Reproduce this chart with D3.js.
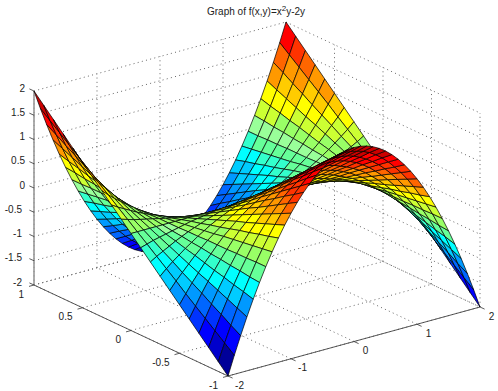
<!DOCTYPE html>
<html>
<head>
<meta charset="utf-8">
<script src="https://cdn.jsdelivr.net/npm/d3@7"></script>
<style>
  body { margin: 0; background: #fff; }
  text { font-family: "Liberation Sans", sans-serif; font-size: 10px; fill: #222; }
</style>
</head>
<body>
<div id="chart"></div>
<script>
/*-------------------------------data-------------------------------*/

const xValues = [-2,-1.9,-1.8,-1.7,-1.6,-1.5,-1.4,-1.3,-1.2,-1.1,-1,-.9,-.8,-.7,-.6,-.5,-.4,-.3,-.2,-.1,0,.1,.2,.3,.4,.5,.6,.7,.8,.9,1,1.1,1.2,1.3,1.4,1.5,1.6,1.7,1.8,1.9,2];
const yValues = [-1,-.9,-.8,-.7,-.6,-.5,-.4,-.3,-.2,-.1,0,.1,.2,.3,.4,.5,.6,.7,.8,.9,1];

// one row per x value, one column per y value
const zValues = [
  [-2,-1.8,-1.6,-1.4,-1.2,-1,-.8,-.6,-.4,-.2,0,.2,.4,.6,.8,1,1.2,1.4,1.6,1.8,2],
  [-1.61,-1.45,-1.29,-1.13,-.97,-.81,-.64,-.48,-.32,-.16,0,.16,.32,.48,.64,.81,.97,1.13,1.29,1.45,1.61],
  [-1.24,-1.12,-.99,-.87,-.74,-.62,-.5,-.37,-.25,-.12,0,.12,.25,.37,.5,.62,.74,.87,.99,1.12,1.24],
  [-.89,-.8,-.71,-.62,-.53,-.45,-.36,-.27,-.18,-.09,0,.09,.18,.27,.36,.45,.53,.62,.71,.8,.89],
  [-.56,-.5,-.45,-.39,-.34,-.28,-.22,-.17,-.11,-.06,0,.06,.11,.17,.22,.28,.34,.39,.45,.5,.56],
  [-.25,-.23,-.2,-.18,-.15,-.13,-.1,-.08,-.05,-.03,0,.03,.05,.08,.1,.13,.15,.18,.2,.23,.25],
  [.04,.04,.03,.03,.02,.02,.02,.01,.01,0,0,0,-.01,-.01,-.02,-.02,-.02,-.03,-.03,-.04,-.04],
  [.31,.28,.25,.22,.19,.16,.12,.09,.06,.03,0,-.03,-.06,-.09,-.12,-.16,-.19,-.22,-.25,-.28,-.31],
  [.56,.5,.45,.39,.34,.28,.22,.17,.11,.06,0,-.06,-.11,-.17,-.22,-.28,-.34,-.39,-.45,-.5,-.56],
  [.79,.71,.63,.55,.47,.4,.32,.24,.16,.08,0,-.08,-.16,-.24,-.32,-.4,-.47,-.55,-.63,-.71,-.79],
  [1,.9,.8,.7,.6,.5,.4,.3,.2,.1,0,-.1,-.2,-.3,-.4,-.5,-.6,-.7,-.8,-.9,-1],
  [1.19,1.07,.95,.83,.71,.6,.48,.36,.24,.12,0,-.12,-.24,-.36,-.48,-.6,-.71,-.83,-.95,-1.07,-1.19],
  [1.36,1.22,1.09,.95,.82,.68,.54,.41,.27,.14,0,-.14,-.27,-.41,-.54,-.68,-.82,-.95,-1.09,-1.22,-1.36],
  [1.51,1.36,1.21,1.06,.91,.76,.6,.45,.3,.15,0,-.15,-.3,-.45,-.6,-.76,-.91,-1.06,-1.21,-1.36,-1.51],
  [1.64,1.48,1.31,1.15,.98,.82,.66,.49,.33,.16,0,-.16,-.33,-.49,-.66,-.82,-.98,-1.15,-1.31,-1.48,-1.64],
  [1.75,1.58,1.4,1.23,1.05,.88,.7,.53,.35,.18,0,-.18,-.35,-.53,-.7,-.88,-1.05,-1.23,-1.4,-1.58,-1.75],
  [1.84,1.66,1.47,1.29,1.1,.92,.74,.55,.37,.18,0,-.18,-.37,-.55,-.74,-.92,-1.1,-1.29,-1.47,-1.66,-1.84],
  [1.91,1.72,1.53,1.34,1.15,.96,.76,.57,.38,.19,0,-.19,-.38,-.57,-.76,-.96,-1.15,-1.34,-1.53,-1.72,-1.91],
  [1.96,1.76,1.57,1.37,1.18,.98,.78,.59,.39,.2,0,-.2,-.39,-.59,-.78,-.98,-1.18,-1.37,-1.57,-1.76,-1.96],
  [1.99,1.79,1.59,1.39,1.19,1,.8,.6,.4,.2,0,-.2,-.4,-.6,-.8,-1,-1.19,-1.39,-1.59,-1.79,-1.99],
  [2,1.8,1.6,1.4,1.2,1,.8,.6,.4,.2,0,-.2,-.4,-.6,-.8,-1,-1.2,-1.4,-1.6,-1.8,-2],
  [1.99,1.79,1.59,1.39,1.19,1,.8,.6,.4,.2,0,-.2,-.4,-.6,-.8,-1,-1.19,-1.39,-1.59,-1.79,-1.99],
  [1.96,1.76,1.57,1.37,1.18,.98,.78,.59,.39,.2,0,-.2,-.39,-.59,-.78,-.98,-1.18,-1.37,-1.57,-1.76,-1.96],
  [1.91,1.72,1.53,1.34,1.15,.96,.76,.57,.38,.19,0,-.19,-.38,-.57,-.76,-.96,-1.15,-1.34,-1.53,-1.72,-1.91],
  [1.84,1.66,1.47,1.29,1.1,.92,.74,.55,.37,.18,0,-.18,-.37,-.55,-.74,-.92,-1.1,-1.29,-1.47,-1.66,-1.84],
  [1.75,1.58,1.4,1.23,1.05,.88,.7,.53,.35,.18,0,-.18,-.35,-.53,-.7,-.88,-1.05,-1.23,-1.4,-1.58,-1.75],
  [1.64,1.48,1.31,1.15,.98,.82,.66,.49,.33,.16,0,-.16,-.33,-.49,-.66,-.82,-.98,-1.15,-1.31,-1.48,-1.64],
  [1.51,1.36,1.21,1.06,.91,.76,.6,.45,.3,.15,0,-.15,-.3,-.45,-.6,-.76,-.91,-1.06,-1.21,-1.36,-1.51],
  [1.36,1.22,1.09,.95,.82,.68,.54,.41,.27,.14,0,-.14,-.27,-.41,-.54,-.68,-.82,-.95,-1.09,-1.22,-1.36],
  [1.19,1.07,.95,.83,.71,.6,.48,.36,.24,.12,0,-.12,-.24,-.36,-.48,-.6,-.71,-.83,-.95,-1.07,-1.19],
  [1,.9,.8,.7,.6,.5,.4,.3,.2,.1,0,-.1,-.2,-.3,-.4,-.5,-.6,-.7,-.8,-.9,-1],
  [.79,.71,.63,.55,.47,.4,.32,.24,.16,.08,0,-.08,-.16,-.24,-.32,-.4,-.47,-.55,-.63,-.71,-.79],
  [.56,.5,.45,.39,.34,.28,.22,.17,.11,.06,0,-.06,-.11,-.17,-.22,-.28,-.34,-.39,-.45,-.5,-.56],
  [.31,.28,.25,.22,.19,.16,.12,.09,.06,.03,0,-.03,-.06,-.09,-.12,-.16,-.19,-.22,-.25,-.28,-.31],
  [.04,.04,.03,.03,.02,.02,.02,.01,.01,0,0,0,-.01,-.01,-.02,-.02,-.02,-.03,-.03,-.04,-.04],
  [-.25,-.23,-.2,-.18,-.15,-.13,-.1,-.08,-.05,-.03,0,.03,.05,.08,.1,.13,.15,.18,.2,.23,.25],
  [-.56,-.5,-.45,-.39,-.34,-.28,-.22,-.17,-.11,-.06,0,.06,.11,.17,.22,.28,.34,.39,.45,.5,.56],
  [-.89,-.8,-.71,-.62,-.53,-.45,-.36,-.27,-.18,-.09,0,.09,.18,.27,.36,.45,.53,.62,.71,.8,.89],
  [-1.24,-1.12,-.99,-.87,-.74,-.62,-.5,-.37,-.25,-.12,0,.12,.25,.37,.5,.62,.74,.87,.99,1.12,1.24],
  [-1.61,-1.45,-1.29,-1.13,-.97,-.81,-.64,-.48,-.32,-.16,0,.16,.32,.48,.64,.81,.97,1.13,1.29,1.45,1.61],
  [-2,-1.8,-1.6,-1.4,-1.2,-1,-.8,-.6,-.4,-.2,0,.2,.4,.6,.8,1,1.2,1.4,1.6,1.8,2]
];

const xTicks = [-2,-1,0,1,2];
const yTicks = [-1,-.5,0,.5,1];
const zTicks = [-2,-1.5,-1,-.5,0,.5,1,1.5,2];

/*-------------------------------init-------------------------------*/

const size = { width: 498, height: 391 };

// oblique projection of the axes box, one scale per screen direction
const xToLeft = d3.scaleLinear().domain([-2, 2]).range([0, 252]);
const xToTop = d3.scaleLinear().domain([-2, 2]).range([0, -69]);
const yToLeft = d3.scaleLinear().domain([-1, 1]).range([194, 0]);
const yToTop = d3.scaleLinear().domain([-1, 1]).range([91, 0]);
const zToTop = d3.scaleLinear().domain([-2, 2]).range([194, 0]);

const px = (x, y) => 34 + xToLeft(x) + yToLeft(y);
const py = (x, y, z) => 91 + xToTop(x) + yToTop(y) + zToTop(z);

// matlab jet, 64 steps, flat colour per face, reference is web safe palette
const jet = d3.scaleLinear()
    .domain([0, 8, 24, 40, 56, 72])
    .range(["#000080", "#0000ff", "#00ffff", "#ffff00", "#ff0000", "#800000"]);
const websafe = c => {
    const { r, g, b } = d3.rgb(c);
    const snap = v => Math.round(v / 51) * 51;
    return d3.rgb(snap(r), snap(g), snap(b)).formatHex();
};
const color = d3.scaleQuantize().domain([-2, 2]).range(d3.range(1, 65).map(i => websafe(jet(i))));

const svg = d3.select("#chart").append("svg")
    .attr("width", size.width)
    .attr("height", size.height)
    .style("display", "block");

/*-------------------------------grid-------------------------------*/

const gridLines = [];
const seg = (a, b) => gridLines.push({ a, b });

zTicks.forEach(z => {
    seg([-2, 1, z], [2, 1, z]);
    seg([2, 1, z], [2, -1, z]);
});
xTicks.forEach(x => {
    seg([x, 1, -2], [x, 1, 2]);
    seg([x, -1, -2], [x, 1, -2]);
});
yTicks.forEach(y => {
    seg([2, y, -2], [2, y, 2]);
    seg([-2, y, -2], [2, y, -2]);
});

svg.append("g")
    .selectAll("line")
    .data(gridLines)
    .enter()
    .append("line")
    .attr("x1", d => px(d.a[0], d.a[1]))
    .attr("y1", d => py(d.a[0], d.a[1], d.a[2]))
    .attr("x2", d => px(d.b[0], d.b[1]))
    .attr("y2", d => py(d.b[0], d.b[1], d.b[2]))
    .attr("stroke", "#555")
    .attr("stroke-width", 0.9)
    .attr("stroke-dasharray", "1 3.3");

/*-------------------------------axes-------------------------------*/

const axisLines = [
    { a: [-2, 1, -2], b: [-2, 1, 2], stroke: "#999", width: 1.6 },
    { a: [-2, 1, -2], b: [-2, -1, -2], stroke: "#444", width: 0.9 },
    { a: [-2, -1, -2], b: [2, -1, -2], stroke: "#444", width: 0.9 }
];

svg.append("g")
    .selectAll("line")
    .data(axisLines)
    .enter()
    .append("line")
    .attr("x1", d => px(d.a[0], d.a[1]))
    .attr("y1", d => py(d.a[0], d.a[1], d.a[2]))
    .attr("x2", d => px(d.b[0], d.b[1]))
    .attr("y2", d => py(d.b[0], d.b[1], d.b[2]))
    .attr("stroke", d => d.stroke)
    .attr("stroke-width", d => d.width);

const tickMarks = [
    ...zTicks.map(z => ({ left: px(-2, 1), top: py(-2, 1, z), dx: -4.6, dy: -2.1 })),
    ...yTicks.map(y => ({ left: px(-2, y), top: py(-2, y, -2), dx: -5, dy: 1.4 })),
    ...xTicks.map(x => ({ left: px(x, -1), top: py(x, -1, -2), dx: 4.6, dy: 2.1 }))
];

svg.append("g")
    .selectAll("line")
    .data(tickMarks)
    .enter()
    .append("line")
    .attr("x1", d => d.left)
    .attr("y1", d => d.top)
    .attr("x2", d => d.left + d.dx)
    .attr("y2", d => d.top + d.dy)
    .attr("stroke", "#333")
    .attr("stroke-width", 0.8);

const tickLabels = [
    ...zTicks.map(z => ({ text: z, left: px(-2, 1) - (z < 0 ? 12 : 9), top: py(-2, 1, z) - 3, anchor: "end" })),
    ...yTicks.map(y => ({ text: y, left: px(-2, y) - 10, top: py(-2, y, -2) + 9, anchor: "end" })),
    ...xTicks.map(x => ({ text: x, left: px(x, -1) + 11.5, top: py(x, -1, -2) + 9, anchor: "middle" }))
];

svg.append("g")
    .selectAll("text")
    .data(tickLabels)
    .enter()
    .append("text")
    .attr("x", d => d.left)
    .attr("y", d => d.top)
    .attr("dy", "0.35em")
    .attr("text-anchor", d => d.anchor)
    .text(d => d.text);

/*-------------------------------surface-------------------------------*/

// viewer sits on the low x, low y side, so walk the grid from back to front
const faces = [];
for (let i = xValues.length - 2; i >= 0; i--) {
    for (let j = yValues.length - 2; j >= 0; j--) {
        faces.push({ i, j });
    }
}

const corner = (i, j) => [px(xValues[i], yValues[j]), py(xValues[i], yValues[j], zValues[i][j])];

svg.append("g")
    .selectAll("path")
    .data(faces)
    .enter()
    .append("path")
    .attr("d", d => d3.line()([
        corner(d.i, d.j),
        corner(d.i + 1, d.j),
        corner(d.i + 1, d.j + 1),
        corner(d.i, d.j + 1)
    ]) + "Z")
    .attr("fill", d => color(zValues[d.i][d.j]))
    .attr("stroke", "#000")
    .attr("stroke-width", 0.7)
    .attr("stroke-linejoin", "round");

/*-------------------------------title-------------------------------*/

const title = svg.append("text")
    .attr("x", 207)
    .attr("y", 15);
title.append("tspan").text("Graph of f(x,y)=x");
title.append("tspan").attr("dy", -4).style("font-size", "8px").text("2");
title.append("tspan").attr("dy", 4).text("y-2y");
</script>
</body>
</html>
